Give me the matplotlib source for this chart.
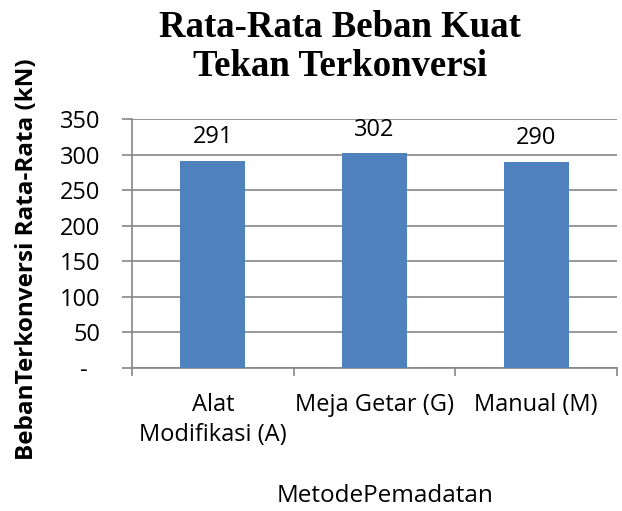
import matplotlib
matplotlib.use("Agg")
import matplotlib.pyplot as plt
import numpy as np

categories = ["Alat\nModifikasi (A)", "Meja Getar (G)", "Manual (M)"]
values = [291, 302, 290]
yticks = [0, 50, 100, 150, 200, 250, 300, 350]
ytick_labels = ["-  ", "50", "100", "150", "200", "250", "300", "350"]

W, H = 622, 511
fig = plt.figure(figsize=(W / 100, H / 100), dpi=100)
ax = fig.add_axes([132 / W, (H - 368) / H, (617 - 132) / W, (368 - 119) / H])

sans = ["Open Sans", "DejaVu Sans"]
bar_color = "#4F81BD"
grid_color = "#868686"

x = np.arange(len(categories))
ax.bar(x, values, width=0.4, color=bar_color, zorder=3)
ax.set_xlim(-0.5, len(categories) - 0.5)
ax.set_ylim(0, 350)

# value labels above bars
for xi, v in zip(x, values):
    ax.annotate(str(v), (xi, v), xytext=(0, 17), textcoords="offset points",
                ha="center", va="center", fontsize=17, family=sans)

ax.set_yticks(yticks)
ax.set_yticklabels(ytick_labels, family=sans, fontsize=17)
ax.tick_params(axis="y", length=7, width=1.2, color=grid_color, pad=16)
ax.yaxis.grid(True, color=grid_color, linewidth=1.2, zorder=0)

ax.set_xticks(x)
ax.set_xticklabels(categories, family=sans, fontsize=17, linespacing=1.35)
ax.tick_params(axis="x", which="major", length=0, pad=18)
ax.set_xticks(np.arange(len(categories) + 1) - 0.5, minor=True)
ax.tick_params(axis="x", which="minor", length=6, width=1.2, color=grid_color)

for side in ["top", "right"]:
    ax.spines[side].set_visible(False)
for side in ["left", "bottom"]:
    ax.spines[side].set_color(grid_color)
    ax.spines[side].set_linewidth(1.2)

fig.text(340 / W, 1 - 47 / H, "Rata-Rata Beban Kuat\nTekan Terkonversi",
         ha="center", va="center", fontsize=26.5, fontweight="bold",
         family="Liberation Serif", linespacing=1.15)

fig.text(385 / W, 1 - 496 / H, "MetodePemadatan", ha="center", va="center",
         fontsize=17.5, family=sans)
fig.text(27 / W, 1 - 259 / H, "BebanTerkonversi Rata-Rata (kN)", ha="center",
         va="center", rotation=90, fontsize=17.5, fontweight="bold", family=sans)

fig.savefig("out.png", dpi=100)
